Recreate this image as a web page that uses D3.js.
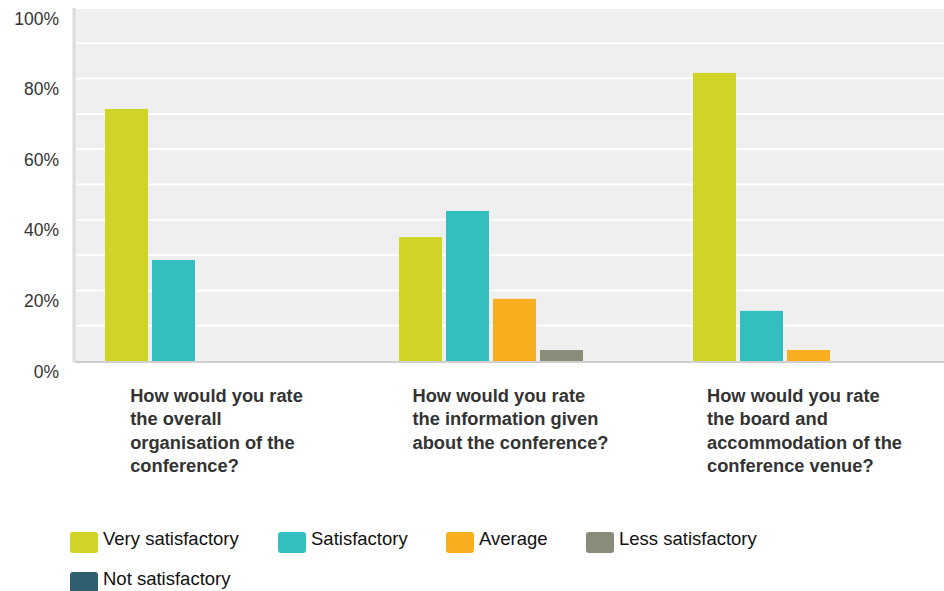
<!DOCTYPE html>
<html>
<head>
<meta charset="utf-8">
<script src="https://cdn.jsdelivr.net/npm/d3@7"></script>
<style>
  html, body { margin: 0; padding: 0; background: #fff; }
  svg { display: block; font-family: Arial, "Liberation Sans", Helvetica, sans-serif; }
</style>
</head>
<body>
<svg id="chart" width="944" height="591"></svg>
<script>
// ---- data ----
const categories = [
  ["How would you rate", "the overall", "organisation of the", "conference?"],
  ["How would you rate", "the information given", "about the conference?"],
  ["How would you rate", "the board and", "accommodation of the", "conference venue?"]
];
const series = ["Very satisfactory", "Satisfactory", "Average", "Less satisfactory", "Not satisfactory"];
const veryValues  = [71.4, 35.1, 81.6];
const satValues   = [28.6, 42.5, 14.2];
const avgValues   = [0, 17.6, 3.1];
const lessValues  = [0, 3.1, 0];
const notValues   = [0, 0, 0];
const yTicks = [0, 20, 40, 60, 80, 100];
const colors = ["#CFD427", "#33BEC0", "#F8AE1E", "#8B8B7A", "#2E5F6E"];

const valuesBySeries = [veryValues, satValues, avgValues, lessValues, notValues];

// ---- layout ----
const svg = d3.select("#chart");
const plotLeft = 75, plotRight = 944, plotTop = 8, plotBottom = 361;

const y = d3.scaleLinear().domain([0, 100]).range([plotBottom, plotTop]);
const x0 = d3.scaleBand().domain(d3.range(categories.length)).range([75, 75 + 3 * 294]).paddingInner(0);
const x1 = d3.scaleBand().domain(series).range([0, 231]).paddingInner(0.085);
const groupOffset = 30;
const color = d3.scaleOrdinal().domain(series).range(colors);

// background
svg.append("rect")
  .attr("x", plotLeft).attr("y", plotTop)
  .attr("width", plotRight - plotLeft).attr("height", plotBottom - plotTop)
  .attr("fill", "#EFEFEF");

// gridlines every 10%
svg.append("g").selectAll("line")
  .data(d3.range(10, 101, 10))
  .join("line")
  .attr("x1", plotLeft).attr("x2", plotRight)
  .attr("y1", d => y(d)).attr("y2", d => y(d))
  .attr("stroke", "#fff").attr("stroke-width", 2);

// bars
const groups = svg.append("g").selectAll("g")
  .data(categories.map((c, i) => i))
  .join("g")
  .attr("transform", i => `translate(${x0(i) + groupOffset},0)`);

groups.selectAll("rect")
  .data(i => series.map((s, k) => ({ s, v: valuesBySeries[k][i] })).filter(d => d.v > 0))
  .join("rect")
  .attr("x", d => x1(d.s))
  .attr("width", x1.bandwidth())
  .attr("y", d => y(d.v))
  .attr("height", d => y(0) - y(d.v))
  .attr("fill", d => color(d.s));

// left axis line
svg.append("line")
  .attr("x1", 74).attr("x2", 74).attr("y1", plotTop).attr("y2", plotBottom + 1)
  .attr("stroke", "#DCDCDC").attr("stroke-width", 3);
// baseline
svg.append("line")
  .attr("x1", plotLeft).attr("x2", plotRight).attr("y1", plotBottom + 1).attr("y2", plotBottom + 1)
  .attr("stroke", "#CFCFCF").attr("stroke-width", 2);

// y tick labels
const yAxis = d3.axisLeft(y).tickValues(yTicks).tickFormat(d => d + "%").tickSize(0).tickPadding(0);
const yg = svg.append("g").attr("transform", "translate(59,0)").call(yAxis);
yg.select(".domain").remove();
yg.selectAll("text")
  .attr("font-size", 17.5).attr("fill", "#333")
  .attr("font-family", "Arial, 'Liberation Sans', sans-serif")
  .attr("dy", null).attr("y", 16);

// category labels (block centred under group)
categories.forEach((lines, i) => {
  const t = svg.append("text")
    .attr("font-size", 18.3).attr("font-weight", "bold").attr("fill", "#333");
  lines.forEach((ln, j) => {
    t.append("tspan").attr("x", 0).attr("y", 402 + j * 23.4).text(ln);
  });
  let maxW = 0;
  t.selectAll("tspan").each(function () { maxW = Math.max(maxW, this.getComputedTextLength()); });
  const cx = x0(i) + x0.bandwidth() / 2 - 5.5;
  t.attr("transform", `translate(${cx - maxW / 2},0)`);
});

// legend
const legendPos = [
  { x: 70, y: 532 }, { x: 278, y: 532 }, { x: 446, y: 532 }, { x: 586, y: 532 }, { x: 70, y: 572 }
];
const lg = svg.append("g").selectAll("g")
  .data(series)
  .join("g")
  .attr("transform", (d, i) => `translate(${legendPos[i].x},${legendPos[i].y})`);
lg.append("rect")
  .attr("width", 28).attr("height", 21).attr("rx", 3)
  .attr("fill", d => color(d));
lg.append("text")
  .attr("x", 33).attr("y", 12.5)
  .attr("font-size", 18.5).attr("fill", "#111")
  .text(d => d);
</script>
</body>
</html>
